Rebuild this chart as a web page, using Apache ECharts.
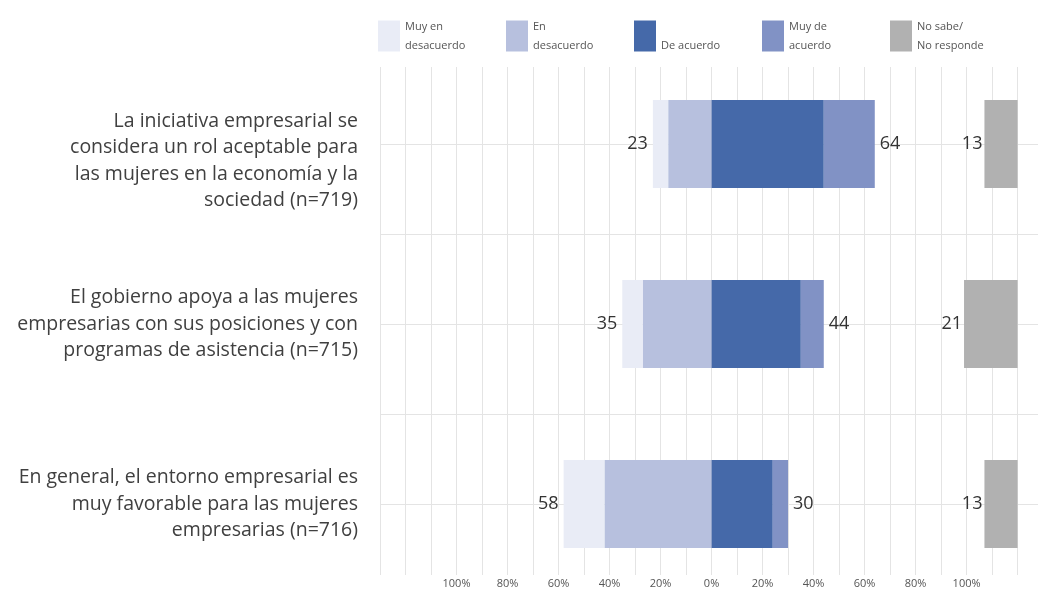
<!DOCTYPE html>
<html>
<head>
<meta charset="utf-8">
<script src="https://cdn.jsdelivr.net/npm/echarts@6/dist/echarts.min.js"></script>
<style>
  html, body { margin: 0; padding: 0; background: #fff; }
  #chart { width: 1041px; height: 595px; }
</style>
</head>
<body>
<div id="chart"></div>
<script>
// categorías (de arriba a abajo)
const categories = [
  'La iniciativa empresarial se\nconsidera un rol aceptable para\nlas mujeres en la economía y la\nsociedad (n=719)',
  'El gobierno apoya a las mujeres\nempresarias con sus posiciones y con\nprogramas de asistencia (n=715)',
  'En general, el entorno empresarial es\nmuy favorable para las mujeres\nempresarias (n=716)'
];
const muyEnDesacuerdo = [6, 8, 16];
const enDesacuerdo = [17, 27, 42];
const deAcuerdo = [44, 35, 24];
const muyDeAcuerdo = [20, 9, 6];
const noSabe = [13, 21, 13];

const totalDesacuerdo = muyEnDesacuerdo.map((v, i) => v + enDesacuerdo[i]);
const totalAcuerdo = deAcuerdo.map((v, i) => v + muyDeAcuerdo[i]);

const legendNames = {
  'Muy en desacuerdo': 'Muy en\ndesacuerdo',
  'En desacuerdo': 'En\ndesacuerdo',
  'De acuerdo': '\nDe acuerdo',
  'Muy de acuerdo': 'Muy de\nacuerdo',
  'No sabe/No responde': 'No sabe/\nNo responde'
};

const chart = echarts.init(document.getElementById('chart'));

const valueLabel = {
  show: true,
  fontSize: 18,
  color: '#333',
  fontFamily: 'Open Sans',
  distance: 5
};

const option = {
  animation: false,
  legend: {
    data: Object.keys(legendNames),
    icon: 'rect',
    left: 373,
    top: 12,
    itemWidth: 22,
    itemHeight: 31,
    itemGap: 17,
    formatter: name => legendNames[name],
    textStyle: { fontSize: 11, color: '#555', width: 84, lineHeight: 19, fontFamily: 'Open Sans' }
  },
  grid: [
    { left: 380, right: 3, top: 67, bottom: 20 },   // rejilla vertical
    { left: 380, right: 3, top: 54, bottom: 1 }     // barras
  ],
  xAxis: [
    {
      gridIndex: 0,
      type: 'value',
      min: -130,
      max: 128,
      interval: 10,
      axisLine: { show: false },
      axisTick: { show: false },
      splitLine: { lineStyle: { color: '#e4e4e4' }, showMinLine: true, showMaxLine: false },
      axisLabel: {
        margin: 3,
        fontSize: 11,
        color: '#555',
        fontFamily: 'Open Sans',
        formatter: v => (v % 20 === 0 && Math.abs(v) <= 100) ? Math.abs(v) + '%' : ''
      }
    },
    { gridIndex: 1, type: 'value', min: -130, max: 128, show: false }
  ],
  yAxis: [
    { gridIndex: 0, type: 'value', show: false },
    {
      gridIndex: 1,
      type: 'category',
      inverse: true,
      data: categories,
      axisLine: { show: false },
      axisTick: { show: false },
      splitLine: { show: false },
      axisLabel: {
        margin: 22,
        fontSize: 19.5,
        lineHeight: 26.5,
        color: '#404040',
        fontFamily: 'Open Sans',
        align: 'right',
        // el primer texto va algo más abajo, como en el original
        formatter: (value, idx) => idx === 0 ? '{pad|}\n' + value : value,
        rich: { pad: { height: 34, lineHeight: 34 } }
      }
    },
    {
      gridIndex: 1,
      type: 'category',
      data: ['', '', '', '', '', ''],
      axisLine: { show: false },
      axisTick: { show: false },
      axisLabel: { show: false },
      splitLine: { show: true, showMinLine: false, showMaxLine: false, lineStyle: { color: '#e4e4e4' } }
    }
  ],
  series: [
    {
      name: 'En desacuerdo', type: 'bar', stack: 'likert', xAxisIndex: 1, yAxisIndex: 1,
      barWidth: 88, barGap: '-100%',
      itemStyle: { color: '#b7c0de' },
      data: enDesacuerdo.map(v => -v)
    },
    {
      name: 'Muy en desacuerdo', type: 'bar', stack: 'likert', xAxisIndex: 1, yAxisIndex: 1,
      barWidth: 88, barGap: '-100%',
      itemStyle: { color: '#e9ecf6' },
      label: Object.assign({}, valueLabel, {
        position: 'left',
        formatter: p => totalDesacuerdo[p.dataIndex]
      }),
      data: muyEnDesacuerdo.map(v => -v)
    },
    {
      name: 'De acuerdo', type: 'bar', stack: 'likert', xAxisIndex: 1, yAxisIndex: 1,
      barWidth: 88, barGap: '-100%',
      itemStyle: { color: '#4569a9' },
      data: deAcuerdo
    },
    {
      name: 'Muy de acuerdo', type: 'bar', stack: 'likert', xAxisIndex: 1, yAxisIndex: 1,
      barWidth: 88, barGap: '-100%',
      itemStyle: { color: '#8192c5' },
      label: Object.assign({}, valueLabel, {
        position: 'right',
        formatter: p => totalAcuerdo[p.dataIndex]
      }),
      data: muyDeAcuerdo
    },
    {
      // hueco transparente para colocar "No sabe" a la derecha
      name: 'offset', type: 'bar', stack: 'ns', xAxisIndex: 1, yAxisIndex: 1,
      barWidth: 88, barGap: '-100%',
      itemStyle: { color: 'transparent' },
      silent: true,
      data: noSabe.map(v => 120 - v)
    },
    {
      name: 'No sabe/No responde', type: 'bar', stack: 'ns', xAxisIndex: 1, yAxisIndex: 1,
      barWidth: 88, barGap: '-100%',
      itemStyle: { color: '#b1b1b1' },
      label: Object.assign({}, valueLabel, { position: 'left', distance: 2 }),
      data: noSabe
    }
  ]
};

chart.setOption(option);
</script>
</body>
</html>
